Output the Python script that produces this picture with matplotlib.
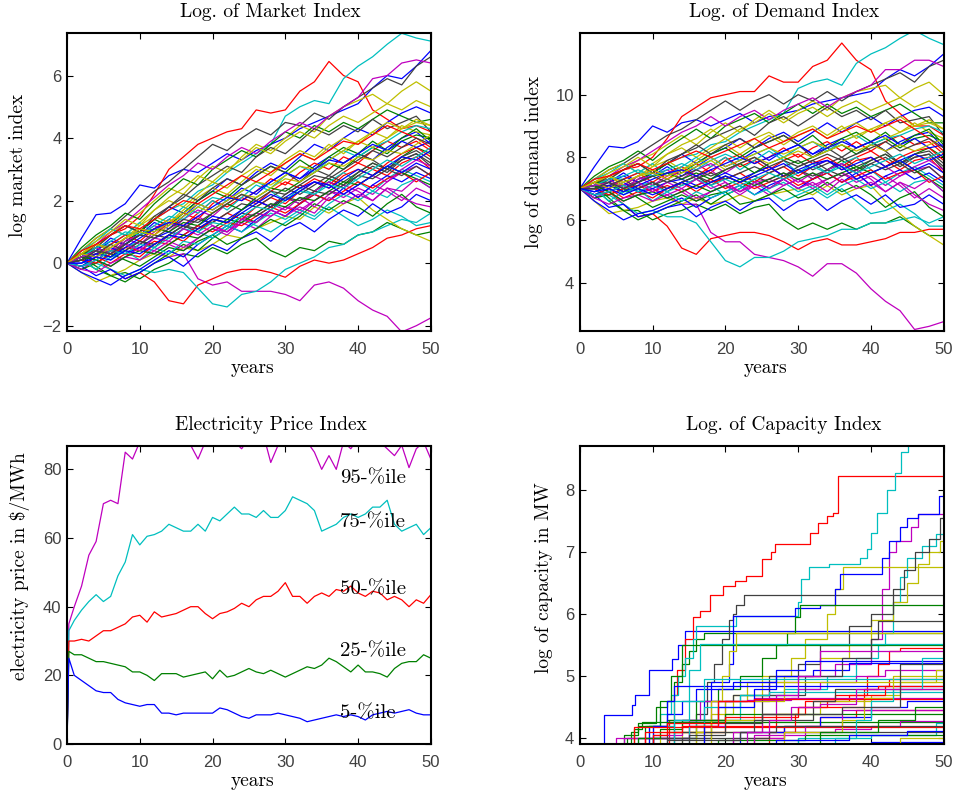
import matplotlib
matplotlib.use('Agg')
from matplotlib import pyplot as plt
from cycler import cycler

# time grid of the simulated paths (every 2 years)
YEARS = list(range(0, 51, 2))

# log of market index, one list per path
LOG_MARKET = [
    [0, .8, 1.55, 1.6, 1.9, 2.5, 2.4, 2.8, 3.0, 2.9, 3.2, 3.5, 3.3, 3.6, 3.8, 4.0, 4.3, 4.5, 4.7, 4.9, 5.1, 5.6, 6.0, 5.9, 6.3, 6.8],
    [0, .1, -.2, -.4, -.3, -.5, -.2, 0, .3, .2, .5, .3, .6, .8, .4, .2, .5, .4, .7, .6, .9, 1.0, 1.3, 1.1, .9, 1.0],
    [0, .3, .6, .9, 1.1, 1.5, 2.2, 3.0, 3.4, 3.8, 4.0, 4.2, 4.3, 4.9, 4.8, 4.9, 5.5, 5.8, 6.45, 6.0, 5.8, 4.9, 4.6, 4.3, 4.4, 4.2],
    [0, .2, .5, .6, .9, 1.0, 1.4, 1.7, 1.9, 2.3, 2.5, 2.9, 3.2, 3.5, 3.8, 4.7, 5.0, 5.2, 5.1, 5.9, 6.3, 6.6, 7.0, 7.35, 7.2, 7.1],
    [0, .2, .3, .4, .6, .5, .4, .2, .3, -.5, -.7, -.6, -.9, -.9, -.9, -1.0, -1.2, -.7, -.6, -.8, -1.2, -1.5, -1.7, -2.2, -2.0, -1.75],
    [0, .2, .5, .9, 1.3, 1.6, 2.0, 2.4, 2.2, 2.7, 3.1, 2.9, 3.4, 3.8, 3.6, 4.0, 4.4, 4.2, 4.7, 5.0, 5.2, 5.4, 5.1, 5.5, 5.8, 5.5],
    [0, .4, .8, 1.1, 1.5, 1.9, 2.3, 2.6, 3.0, 3.4, 3.8, 3.6, 4.0, 4.3, 4.1, 4.5, 4.4, 4.8, 4.6, 5.0, 5.3, 5.6, 5.9, 5.7, 6.3, 6.6],
    [0, .1, .4, .8, .6, 1.0, 1.4, 1.8, 1.6, 2.0, 2.3, 2.7, 2.5, 2.9, 3.2, 3.0, 3.4, 3.8, 3.6, 4.0, 4.3, 4.1, 4.5, 4.8, 5.0, 4.8],
    [0, .5, .9, 1.2, 1.6, 1.4, 1.9, 2.3, 2.7, 2.5, 3.0, 3.3, 3.6, 3.4, 3.8, 4.2, 4.0, 4.4, 4.2, 4.5, 4.3, 4.6, 4.9, 4.7, 4.5, 4.6],
    [0, -.1, .1, -.2, -.5, -.3, -.6, -1.2, -1.3, -.7, -.5, -.3, -.2, -.2, -.3, -.45, -.1, .1, 0, .1, .3, .5, .8, .9, 1.1, 1.2],
    [0, -.1, 0, -.2, -.4, -.2, -.3, -.2, -.3, -.8, -1.3, -1.4, -1.0, -.9, -.6, -.2, 0, .2, .5, .6, .9, 1.0, 1.2, 1.4, 1.3, 1.6],
    [0, .3, .6, 1.0, 1.3, 1.7, 2.1, 2.5, 2.8, 3.2, 3.0, 3.4, 3.7, 3.5, 3.9, 4.2, 4.5, 4.3, 4.7, 5.0, 5.3, 5.9, 6.0, 6.4, 6.5, 6.4],
    [0, -.3, -.6, -.4, -.2, .1, .3, .2, .5, .4, .6, .9, .8, 1.1, 1.3, 1.5, 1.4, 1.8, 1.6, 1.9, 2.1, 1.7, 1.4, 1.1, .9, .7],
    [0, .3, .5, .9, 1.2, 1.0, 1.4, 1.8, 2.1, 2.5, 2.8, 3.1, 2.9, 3.4, 3.7, 3.5, 3.9, 4.3, 4.1, 4.4, 4.2, 4.6, 4.3, 4.5, 4.7, 4.2],
    [0, .2, .4, .7, .6, .9, 1.3, 1.1, 1.5, 1.9, 1.7, 2.0, 2.4, 2.2, 2.6, 2.9, 2.7, 3.1, 3.4, 3.2, 3.5, 3.3, 3.7, 4.0, 4.2, 3.8],
    [0, .2, -.1, -.4, -.6, -.3, 0, .3, .6, .4, .8, 1.1, 1.5, 1.3, 1.7, 2.1, 1.9, 2.3, 2.7, 2.5, 2.9, 3.2, 3.0, 3.4, 3.7, 3.5],
    [0, .3, .6, .4, .8, 1.1, .9, 1.3, 1.6, 1.4, 1.9, 2.2, 2.0, 2.3, 2.7, 2.5, 2.9, 3.2, 3.0, 3.4, 3.2, 3.6, 3.9, 3.7, 3.9, 3.6],
    [0, .2, .4, .1, .5, .7, .6, .9, 1.2, 1.0, .8, 1.1, 1.4, 1.2, 1.0, 1.3, 1.6, 1.4, 1.8, 1.5, 1.2, 1.4, 1.7, 1.5, 1.2, 1.3],
    [0, -.2, .1, -.1, .2, .5, .3, .6, .4, .8, 1.1, .9, 1.3, 1.1, 1.5, 1.8, 1.6, 2.0, 2.3, 2.1, 2.4, 2.2, 2.6, 2.9, 3.1, 2.8],
    [0, .4, .8, 1.1, .9, 1.3, 1.7, 2.0, 1.8, 2.2, 2.6, 2.4, 2.8, 3.1, 2.9, 3.3, 3.6, 3.4, 3.8, 3.5, 3.9, 4.2, 4.0, 4.4, 4.2, 4.1],
    [0, .1, .3, .2, .4, .7, .5, .9, 1.2, 1.0, 1.4, 1.3, 1.7, 2.0, 1.8, 2.2, 2.5, 2.3, 2.6, 2.4, 2.8, 3.1, 2.9, 3.3, 3.5, 3.1],
    [0, -.1, -.4, -.2, -.5, -.3, 0, .2, -.1, .3, .6, .4, .8, 1.0, .7, 1.1, 1.3, 1.0, 1.4, 1.7, 1.5, 1.9, 1.6, 1.8, 2.2, 2.0],
    [0, .1, .5, .3, .7, 1.0, 1.4, 1.2, 1.6, 2.0, 2.3, 2.1, 2.5, 2.8, 3.1, 2.9, 3.3, 3.0, 3.4, 3.7, 3.5, 3.9, 3.6, 4.0, 4.3, 3.9],
    [0, .3, .2, .6, .9, .7, 1.1, 1.4, 1.2, 1.6, 2.0, 1.8, 2.1, 1.9, 2.3, 2.6, 2.4, 2.7, 2.5, 2.9, 3.2, 3.0, 2.8, 3.2, 3.4, 3.0],
    [0, .4, .7, 1.1, .9, 1.3, 1.0, 1.4, 1.8, 1.6, 2.0, 1.7, 2.1, 2.5, 2.3, 2.0, 2.4, 2.2, 2.6, 2.9, 2.6, 2.3, 2.7, 3.0, 2.8, 2.6],
    [0, .2, .5, .3, .7, .9, 1.2, 1.0, 1.4, 1.7, 1.5, 1.9, 2.2, 2.0, 1.8, 2.1, 1.9, 2.3, 2.6, 2.4, 2.1, 2.5, 2.3, 2.0, 2.4, 2.2],
    [0, .2, .6, .4, .8, 1.2, 1.5, 1.3, 1.7, 2.1, 2.4, 2.2, 2.6, 3.0, 2.8, 3.2, 3.5, 3.3, 3.7, 4.0, 3.8, 4.2, 4.5, 4.3, 4.6, 4.4],
    [0, .2, .6, .9, 1.2, 1.0, 1.5, 1.8, 2.2, 2.0, 2.4, 2.7, 2.5, 2.8, 3.1, 2.9, 2.6, 3.0, 2.8, 3.2, 3.5, 3.3, 3.0, 3.4, 3.6, 3.3],
    [0, -.3, -.5, -.7, -.4, -.2, .1, .4, .2, .6, .9, 1.2, 1.0, 1.4, 1.7, 1.5, 1.9, 2.2, 2.0, 2.4, 2.1, 2.5, 2.8, 2.6, 2.9, 2.7],
    [0, -.2, 0, .3, .1, -.1, .2, .5, .4, .7, .9, .6, .8, 1.1, 1.4, 1.2, 1.5, 1.9, 1.7, 2.0, 1.8, 1.5, 1.9, 2.2, 1.8, 1.6],
    [0, -.1, .2, 0, .3, .2, .6, .9, .7, 1.1, 1.3, 1.6, 1.4, 1.8, 2.1, 1.9, 2.3, 2.6, 2.4, 2.8, 3.0, 2.8, 3.2, 3.5, 3.7, 3.4],
    [0, .1, -.2, .2, .4, .1, .5, .3, .7, .6, .9, 1.2, 1.0, 1.3, 1.6, 1.4, 1.7, 1.5, 1.9, 2.2, 2.0, 2.3, 2.1, 2.5, 2.7, 2.4],
    [0, .3, .1, .4, .8, .6, 1.0, 1.3, 1.1, 1.5, 1.2, 1.0, 1.4, 1.6, 1.9, 1.7, 2.1, 1.8, 2.2, 2.5, 2.3, 2.0, 2.4, 2.1, 1.9, 1.8],
    [0, .3, .7, 1.0, 1.4, 1.2, 1.7, 2.1, 2.4, 2.8, 2.6, 3.0, 3.3, 3.7, 3.5, 3.9, 4.2, 4.0, 4.4, 4.7, 4.5, 4.8, 5.1, 4.9, 5.2, 5.0],
    [0, .2, .1, .4, .3, .6, .9, .8, 1.1, 1.4, 1.3, 1.6, 1.9, 1.8, 2.1, 2.4, 2.2, 2.5, 2.8, 2.6, 2.9, 3.2, 3.0, 3.3, 3.5, 3.2],
    [0, -.1, .2, .5, .3, .5, .8, 1.0, .9, 1.2, 1.5, 1.4, 1.7, 2.0, 1.8, 2.1, 2.4, 2.6, 2.4, 2.7, 3.0, 2.8, 3.1, 3.4, 3.3, 3.6],
    [0, .3, .4, .2, .6, .9, 1.1, 1.0, 1.3, 1.2, 1.6, 1.9, 1.7, 2.1, 2.4, 2.3, 2.6, 2.9, 3.2, 3.0, 3.4, 3.7, 3.5, 3.9, 4.1, 4.0],
    [0, .1, 0, .3, .5, .4, .7, .6, .9, 1.2, 1.0, 1.3, 1.2, 1.5, 1.8, 1.6, 1.9, 2.2, 2.0, 2.3, 2.6, 2.4, 2.7, 2.9, 2.6, 2.9],
    [0, .2, .5, .7, 1.0, .9, 1.2, 1.5, 1.4, 1.8, 2.1, 2.0, 2.3, 2.6, 2.4, 2.8, 3.1, 2.9, 3.3, 3.6, 3.4, 3.7, 3.9, 4.2, 4.4, 4.3],
    [0, -.2, -.3, 0, .2, .1, .4, .7, .5, .8, 1.1, 1.0, 1.3, 1.6, 1.5, 1.8, 1.7, 2.0, 2.3, 2.2, 2.5, 2.8, 2.6, 3.0, 3.3, 3.1],
    [0, .3, .6, .5, .8, 1.1, 1.0, 1.3, 1.6, 1.9, 1.7, 2.0, 2.3, 2.6, 2.5, 2.8, 3.1, 3.0, 3.3, 3.6, 3.9, 3.7, 4.0, 4.3, 4.5, 4.4],
    [0, .1, .3, .6, .4, .7, .6, .9, 1.2, 1.1, 1.4, 1.3, 1.6, 1.5, 1.8, 2.1, 2.0, 2.3, 2.2, 2.5, 2.8, 2.7, 3.0, 2.8, 3.1, 2.8],
    [0, 0, .3, .2, .5, .8, 1.1, 1.3, 1.2, 1.5, 1.8, 2.1, 2.0, 2.3, 2.6, 2.9, 2.7, 3.0, 3.3, 3.2, 3.5, 3.8, 3.6, 3.9, 3.7, 3.9],
    [0, .2, .1, -.1, .2, .4, .3, .6, .9, .8, 1.1, 1.4, 1.3, 1.6, 1.9, 1.8, 2.1, 2.0, 2.3, 2.6, 2.5, 2.8, 3.1, 2.9, 2.7, 2.5],
    [0, .4, .6, .9, 1.2, 1.1, 1.4, 1.7, 2.0, 1.9, 2.2, 2.5, 2.8, 2.6, 2.9, 3.2, 3.5, 3.3, 3.6, 3.9, 3.8, 4.1, 4.4, 4.2, 4.0, 3.7],
    [0, -.1, .1, .4, .3, .6, .5, .8, 1.1, 1.0, 1.3, 1.2, 1.5, 1.8, 1.7, 2.0, 2.3, 2.2, 2.5, 2.4, 2.7, 3.0, 3.3, 3.1, 3.4, 3.7],
    [0, .2, .4, .3, .6, .4, .8, .7, 1.1, .9, 1.2, 1.0, 1.4, 1.3, 1.7, 1.5, 1.8, 1.6, 2.1, 1.9, 2.2, 2.0, 2.4, 2.3, 2.7, 2.4],
    [0, .3, .2, .5, .8, 1.0, .9, 1.2, 1.5, 1.8, 1.6, 1.9, 2.2, 2.1, 2.4, 2.7, 2.6, 2.9, 3.2, 3.1, 3.4, 3.3, 3.6, 3.5, 3.8, 4.1],
    [0, .1, .4, .3, .6, .9, .8, 1.1, 1.4, 1.3, 1.6, 1.9, 2.2, 2.0, 2.3, 2.2, 2.5, 2.8, 2.7, 3.0, 3.3, 3.6, 3.4, 3.7, 4.0, 3.8],
    [0, 0, .2, .1, .4, .3, .6, .9, .8, 1.1, 1.4, 1.3, 1.6, 1.9, 2.2, 2.0, 2.3, 2.6, 2.5, 2.2, 2.5, 2.8, 3.1, 2.9, 3.2, 3.0],
]

# log of demand index, one list per path
LOG_DEMAND = [
    [7.0, 7.7, 8.35, 8.3, 8.5, 9.0, 8.8, 9.1, 9.2, 9.0, 9.2, 9.4, 9.1, 9.3, 9.4, 9.5, 9.7, 9.8, 9.9, 10.0, 10.1, 10.5, 10.8, 10.6, 10.9, 11.3],
    [7.0, 7.0, 6.6, 6.3, 6.3, 6.0, 6.2, 6.3, 6.5, 6.3, 6.5, 6.2, 6.4, 6.5, 6.0, 5.7, 5.9, 5.7, 5.9, 5.7, 5.9, 5.9, 6.1, 5.8, 5.5, 5.5],
    [7.0, 7.2, 7.4, 7.6, 7.7, 8.0, 8.6, 9.3, 9.6, 9.9, 10.0, 10.1, 10.1, 10.6, 10.4, 10.4, 10.9, 11.1, 11.65, 11.1, 10.8, 9.8, 9.4, 9.0, 9.0, 8.7],
    [7.0, 7.1, 7.3, 7.3, 7.5, 7.5, 7.8, 8.0, 8.1, 8.4, 8.5, 8.8, 9.0, 9.2, 9.4, 10.2, 10.4, 10.5, 10.3, 11.0, 11.3, 11.5, 11.8, 12.05, 11.8, 11.6],
    [7.0, 7.1, 7.1, 7.1, 7.2, 7.0, 6.8, 6.5, 6.5, 5.6, 5.3, 5.3, 4.9, 4.8, 4.7, 4.5, 4.2, 4.6, 4.6, 4.3, 3.8, 3.4, 3.1, 2.5, 2.6, 2.75],
    [7.0, 7.1, 7.3, 7.6, 7.9, 8.1, 8.4, 8.7, 8.4, 8.8, 9.1, 8.8, 9.2, 9.5, 9.2, 9.5, 9.8, 9.5, 9.9, 10.1, 10.2, 10.3, 9.9, 10.2, 10.4, 10.0],
    [7.0, 7.3, 7.6, 7.8, 8.1, 8.4, 8.7, 8.9, 9.2, 9.5, 9.8, 9.5, 9.8, 10.0, 9.7, 10.0, 9.8, 10.1, 9.8, 10.1, 10.3, 10.5, 10.7, 10.4, 10.9, 11.1],
    [7.0, 7.0, 7.2, 7.5, 7.2, 7.5, 7.8, 8.1, 7.8, 8.1, 8.3, 8.6, 8.3, 8.6, 8.8, 8.5, 8.8, 9.1, 8.8, 9.1, 9.3, 9.0, 9.3, 9.5, 9.6, 9.3],
    [7.0, 7.4, 7.7, 7.9, 8.2, 7.9, 8.3, 8.6, 8.9, 8.6, 9.0, 9.2, 9.4, 9.1, 9.4, 9.7, 9.4, 9.7, 9.4, 9.6, 9.3, 9.5, 9.7, 9.4, 9.1, 9.1],
    [7.0, 6.8, 6.9, 6.5, 6.1, 6.2, 5.8, 5.1, 4.9, 5.4, 5.5, 5.6, 5.6, 5.5, 5.3, 5.05, 5.3, 5.4, 5.2, 5.2, 5.3, 5.4, 5.6, 5.6, 5.7, 5.7],
    [7.0, 6.8, 6.8, 6.5, 6.2, 6.3, 6.1, 6.1, 5.9, 5.3, 4.7, 4.5, 4.8, 4.8, 5.0, 5.3, 5.4, 5.5, 5.7, 5.7, 5.9, 5.9, 6.0, 6.1, 5.9, 6.1],
    [7.0, 7.2, 7.4, 7.7, 7.9, 8.2, 8.5, 8.8, 9.0, 9.3, 9.0, 9.3, 9.5, 9.2, 9.5, 9.7, 9.9, 9.6, 9.9, 10.1, 10.3, 10.8, 10.8, 11.1, 11.1, 10.9],
    [7.0, 6.6, 6.2, 6.3, 6.4, 6.6, 6.7, 6.5, 6.7, 6.5, 6.6, 6.8, 6.6, 6.8, 6.9, 7.0, 6.8, 7.1, 6.8, 7.0, 7.1, 6.6, 6.2, 5.8, 5.5, 5.2],
    [7.0, 7.2, 7.3, 7.6, 7.8, 7.5, 7.8, 8.1, 8.3, 8.6, 8.8, 9.0, 8.7, 9.1, 9.3, 9.0, 9.3, 9.6, 9.3, 9.5, 9.2, 9.5, 9.1, 9.2, 9.3, 8.7],
    [7.0, 7.1, 7.2, 7.4, 7.2, 7.4, 7.7, 7.4, 7.7, 8.0, 7.7, 7.9, 8.2, 7.9, 8.2, 8.4, 8.1, 8.4, 8.6, 8.3, 8.5, 8.2, 8.5, 8.7, 8.8, 8.3],
    [7.0, 7.1, 6.7, 6.3, 6.0, 6.2, 6.4, 6.6, 6.8, 6.5, 6.8, 7.0, 7.3, 7.0, 7.3, 7.6, 7.3, 7.6, 7.9, 7.6, 7.9, 8.1, 7.8, 8.1, 8.3, 8.0],
    [7.0, 7.2, 7.4, 7.1, 7.4, 7.6, 7.3, 7.6, 7.8, 7.5, 7.9, 8.1, 7.8, 8.0, 8.3, 8.0, 8.3, 8.5, 8.2, 8.5, 8.2, 8.5, 8.7, 8.4, 8.5, 8.1],
    [7.0, 7.1, 7.2, 6.8, 7.1, 7.2, 7.0, 7.2, 7.4, 7.1, 6.8, 7.0, 7.2, 6.9, 6.6, 6.8, 7.0, 6.7, 7.0, 6.6, 6.2, 6.3, 6.5, 6.2, 5.8, 5.8],
    [7.0, 6.7, 6.9, 6.6, 6.8, 7.0, 6.7, 6.9, 6.6, 6.9, 7.1, 6.8, 7.1, 6.8, 7.1, 7.3, 7.0, 7.3, 7.5, 7.2, 7.4, 7.1, 7.4, 7.6, 7.7, 7.3],
    [7.0, 7.3, 7.6, 7.8, 7.5, 7.8, 8.1, 8.3, 8.0, 8.3, 8.6, 8.3, 8.6, 8.8, 8.5, 8.8, 9.0, 8.7, 9.0, 8.6, 8.9, 9.1, 8.8, 9.1, 8.8, 8.6],
    [7.0, 7.0, 7.1, 6.9, 7.0, 7.2, 6.9, 7.2, 7.4, 7.1, 7.4, 7.2, 7.5, 7.7, 7.4, 7.7, 7.9, 7.6, 7.8, 7.5, 7.8, 8.0, 7.7, 8.0, 8.1, 7.6],
    [7.0, 6.8, 6.4, 6.5, 6.1, 6.2, 6.4, 6.5, 6.1, 6.4, 6.6, 6.3, 6.6, 6.7, 6.3, 6.6, 6.7, 6.3, 6.6, 6.8, 6.5, 6.8, 6.4, 6.5, 6.8, 6.5],
    [7.0, 7.0, 7.3, 7.0, 7.3, 7.5, 7.8, 7.5, 7.8, 8.1, 8.3, 8.0, 8.3, 8.5, 8.7, 8.4, 8.7, 8.3, 8.6, 8.8, 8.5, 8.8, 8.4, 8.7, 8.9, 8.4],
    [7.0, 7.2, 7.0, 7.3, 7.5, 7.2, 7.5, 7.7, 7.4, 7.7, 8.0, 7.7, 7.9, 7.6, 7.9, 8.1, 7.8, 8.0, 7.7, 8.0, 8.2, 7.9, 7.6, 7.9, 8.0, 7.5],
    [7.0, 7.3, 7.5, 7.8, 7.5, 7.8, 7.4, 7.7, 8.0, 7.7, 8.0, 7.6, 7.9, 8.2, 7.9, 7.5, 7.8, 7.5, 7.8, 8.0, 7.6, 7.2, 7.5, 7.7, 7.4, 7.1],
    [7.0, 7.1, 7.3, 7.0, 7.3, 7.4, 7.6, 7.3, 7.6, 7.8, 7.5, 7.8, 8.0, 7.7, 7.4, 7.6, 7.3, 7.6, 7.8, 7.5, 7.1, 7.4, 7.1, 6.7, 7.0, 6.7],
    [7.0, 7.1, 7.4, 7.1, 7.4, 7.7, 7.9, 7.6, 7.9, 8.2, 8.4, 8.1, 8.4, 8.7, 8.4, 8.7, 8.9, 8.6, 8.9, 9.1, 8.8, 9.1, 9.3, 9.0, 9.2, 8.9],
    [7.0, 7.1, 7.4, 7.6, 7.8, 7.5, 7.9, 8.1, 8.4, 8.1, 8.4, 8.6, 8.3, 8.5, 8.7, 8.4, 8.0, 8.3, 8.0, 8.3, 8.5, 8.2, 7.8, 8.1, 8.2, 7.8],
    [7.0, 6.6, 6.3, 6.0, 6.2, 6.3, 6.5, 6.7, 6.4, 6.7, 6.9, 7.1, 6.8, 7.1, 7.3, 7.0, 7.3, 7.5, 7.2, 7.5, 7.1, 7.4, 7.6, 7.3, 7.5, 7.2],
    [7.0, 6.7, 6.8, 7.0, 6.7, 6.4, 6.6, 6.8, 6.6, 6.8, 6.9, 6.5, 6.6, 6.8, 7.0, 6.7, 6.9, 7.2, 6.9, 7.1, 6.8, 6.4, 6.7, 6.9, 6.4, 6.1],
    [7.0, 6.8, 7.0, 6.7, 6.9, 6.7, 7.0, 7.2, 6.9, 7.2, 7.3, 7.5, 7.2, 7.5, 7.7, 7.4, 7.7, 7.9, 7.6, 7.9, 8.0, 7.7, 8.0, 8.2, 8.3, 7.9],
    [7.0, 7.0, 6.6, 6.9, 7.0, 6.6, 6.9, 6.6, 6.9, 6.7, 6.9, 7.1, 6.8, 7.0, 7.2, 6.9, 7.1, 6.8, 7.1, 7.3, 7.0, 7.2, 6.9, 7.2, 7.3, 6.9],
    [7.0, 7.2, 6.9, 7.1, 7.4, 7.1, 7.4, 7.6, 7.3, 7.6, 7.2, 6.9, 7.2, 7.3, 7.5, 7.2, 7.5, 7.1, 7.4, 7.6, 7.3, 6.9, 7.2, 6.8, 6.5, 6.3],
    [7.0, 7.2, 7.5, 7.7, 8.0, 7.7, 8.1, 8.4, 8.6, 8.9, 8.6, 8.9, 9.1, 9.4, 9.1, 9.4, 9.6, 9.3, 9.6, 9.8, 9.5, 9.7, 9.9, 9.6, 9.8, 9.5],
    [7.0, 7.1, 6.9, 7.1, 6.9, 7.1, 7.3, 7.1, 7.3, 7.5, 7.3, 7.5, 7.7, 7.5, 7.7, 7.9, 7.6, 7.8, 8.0, 7.7, 7.9, 8.1, 7.8, 8.0, 8.1, 7.7],
    [7.0, 6.8, 7.0, 7.2, 6.9, 7.0, 7.2, 7.3, 7.1, 7.3, 7.5, 7.3, 7.5, 7.7, 7.4, 7.6, 7.8, 7.9, 7.6, 7.8, 8.0, 7.7, 7.9, 8.1, 7.9, 8.1],
    [7.0, 7.2, 7.2, 6.9, 7.2, 7.4, 7.5, 7.3, 7.5, 7.3, 7.6, 7.8, 7.5, 7.8, 8.0, 7.8, 8.0, 8.2, 8.4, 8.1, 8.4, 8.6, 8.3, 8.6, 8.7, 8.5],
    [7.0, 7.0, 6.8, 7.0, 7.1, 6.9, 7.1, 6.9, 7.1, 7.3, 7.0, 7.2, 7.0, 7.2, 7.4, 7.1, 7.3, 7.5, 7.2, 7.4, 7.6, 7.3, 7.5, 7.6, 7.2, 7.4],
    [7.0, 7.1, 7.3, 7.4, 7.6, 7.4, 7.6, 7.8, 7.6, 7.9, 8.1, 7.9, 8.1, 8.3, 8.0, 8.3, 8.5, 8.2, 8.5, 8.7, 8.4, 8.6, 8.7, 8.9, 9.0, 8.8],
    [7.0, 6.7, 6.5, 6.7, 6.8, 6.6, 6.8, 7.0, 6.7, 6.9, 7.1, 6.9, 7.1, 7.3, 7.1, 7.3, 7.1, 7.3, 7.5, 7.3, 7.5, 7.7, 7.4, 7.7, 7.9, 7.6],
    [7.0, 7.2, 7.4, 7.2, 7.4, 7.6, 7.4, 7.6, 7.8, 8.0, 7.7, 7.9, 8.1, 8.3, 8.1, 8.3, 8.5, 8.3, 8.5, 8.7, 8.9, 8.6, 8.8, 9.0, 9.1, 8.9],
    [7.0, 7.0, 7.1, 7.3, 7.0, 7.2, 7.0, 7.2, 7.4, 7.2, 7.4, 7.2, 7.4, 7.2, 7.4, 7.6, 7.4, 7.6, 7.4, 7.6, 7.8, 7.6, 7.8, 7.5, 7.7, 7.3],
    [7.0, 6.9, 7.1, 6.9, 7.1, 7.3, 7.5, 7.6, 7.4, 7.6, 7.8, 8.0, 7.8, 8.0, 8.2, 8.4, 8.1, 8.3, 8.5, 8.3, 8.5, 8.7, 8.4, 8.6, 8.3, 8.4],
    [7.0, 7.1, 6.9, 6.6, 6.8, 6.9, 6.7, 6.9, 7.1, 6.9, 7.1, 7.3, 7.1, 7.3, 7.5, 7.3, 7.5, 7.3, 7.5, 7.7, 7.5, 7.7, 7.9, 7.6, 7.3, 7.0],
    [7.0, 7.3, 7.4, 7.6, 7.8, 7.6, 7.8, 8.0, 8.2, 8.0, 8.2, 8.4, 8.6, 8.3, 8.5, 8.7, 8.9, 8.6, 8.8, 9.0, 8.8, 9.0, 9.2, 8.9, 8.6, 8.2],
    [7.0, 6.8, 6.9, 7.1, 6.9, 7.1, 6.9, 7.1, 7.3, 7.1, 7.3, 7.1, 7.3, 7.5, 7.3, 7.5, 7.7, 7.5, 7.7, 7.5, 7.7, 7.9, 8.1, 7.8, 8.0, 8.2],
    [7.0, 7.1, 7.2, 7.0, 7.2, 6.9, 7.2, 7.0, 7.3, 7.0, 7.2, 6.9, 7.2, 7.0, 7.3, 7.0, 7.2, 6.9, 7.3, 7.0, 7.2, 6.9, 7.2, 7.0, 7.3, 6.9],
    [7.0, 7.2, 7.0, 7.2, 7.4, 7.5, 7.3, 7.5, 7.7, 7.9, 7.6, 7.8, 8.0, 7.8, 8.0, 8.2, 8.0, 8.2, 8.4, 8.2, 8.4, 8.2, 8.4, 8.2, 8.4, 8.6],
    [7.0, 7.0, 7.2, 7.0, 7.2, 7.4, 7.2, 7.4, 7.6, 7.4, 7.6, 7.8, 8.0, 7.7, 7.9, 7.7, 7.9, 8.1, 7.9, 8.1, 8.3, 8.5, 8.2, 8.4, 8.6, 8.3],
    [7.0, 6.9, 7.0, 6.8, 7.0, 6.8, 7.0, 7.2, 7.0, 7.2, 7.4, 7.2, 7.4, 7.6, 7.8, 7.5, 7.7, 7.9, 7.7, 7.3, 7.5, 7.7, 7.9, 7.6, 7.8, 7.5],
]

# electricity price percentiles in $/MWh
PRICE_YEARS = [0, 0.25] + list(range(1, 51))
PRICE_P95 = [0, 35, 40, 46, 55, 59, 70, 71, 70, 85, 83, 88, 89, 88, 90, 88, 89, 88, 87, 83, 88, 89, 87, 90, 88, 86,
             89, 88, 90, 82, 87, 88, 89, 87, 88, 85, 80, 84, 80, 88, 86, 89, 88, 90, 88, 86, 84, 87, 80.5, 86, 88, 83]
PRICE_P75 = [0, 33, 36, 39, 41.5, 43.5, 41.5, 43, 49, 53, 61, 58, 60.5, 61, 62, 64, 63, 62, 62, 64, 62, 66,
             65, 67, 69, 67, 67, 66, 68, 66, 66, 68, 72, 71, 70, 68, 62, 63, 64, 66, 67, 66, 67, 69, 69, 71, 64, 62, 63, 64, 61, 63]
PRICE_P50 = [0, 30, 30, 30.5, 30, 31.5, 33, 33, 34, 35, 37, 37.5, 35.5, 38.5, 37, 37.5, 38, 39, 40, 40, 38, 36.5,
             38, 38.5, 39.5, 41, 40, 42, 43, 43, 44.5, 47, 43, 43, 41, 43, 44, 43, 45, 44.5, 46, 44, 43, 44.5, 44, 42, 43, 42, 40, 42, 41, 43.5]
PRICE_P25 = [0, 27, 26, 26, 25, 24, 24, 23.5, 23, 22.5, 21, 21, 20, 18.5, 20.5, 20.5, 20.5, 19.5, 20, 20.5, 21, 19,
             21.5, 19.5, 20, 21, 22, 21, 20.5, 21.5, 20.5, 19.5, 20.5, 21.5, 22.5, 22, 23, 25, 24, 22.5, 21, 23, 21, 21, 20.5, 19.5, 22, 23.5, 24, 24, 26, 25]
PRICE_P5 = [0, 25, 20, 18.5, 17, 15.5, 15, 15, 13, 12, 11.5, 11, 11.5, 11.5, 9, 9, 8.5, 9, 9, 9, 9, 9,
            10.5, 10, 9, 8, 7.5, 8.5, 8.5, 8.5, 9, 8.5, 8, 7.5, 6.5, 7, 7.5, 8, 8.5, 8, 8.5, 8, 7, 8.5, 9, 9.5, 9, 9.5, 10, 9, 8.5, 8.5]
PERCENTILE_LABELS = ['95-%ile', '75-%ile', '50-%ile', '25-%ile', '5-%ile']
LABEL_LEVELS = [77.5, 64.5, 45, 27, 9]

# log of capacity: jump times and levels after each jump (step paths)
CAP_TIMES = [
    [0, 3.3, 7.1, 7.6, 9.5, 12.6, 13.5, 14.5, 50],
    [0, 7, 8, 10.5, 12, 13, 14, 15, 16, 17, 50],
    [0, 12.3, 13, 13.3, 14.4, 15.6, 16.5, 17.9, 19.7, 21.3, 22.9, 25, 26.3, 26.8, 31.6, 32.7, 33.9, 34.8, 35.5, 50],
    [0, 9.5, 11, 12.5, 13.5, 14.5, 15.5, 16, 21.5, 30, 30.4, 31.5, 34.3, 38.5, 39.4, 40, 40.8, 42.2, 43.3, 44.2, 45.1, 50],
    [0, 9, 15, 20, 26, 30, 35, 40, 41.5, 42.5, 43.5, 45.5, 46.5, 50],
    [0, 14, 18, 21, 25, 29, 31, 33.9, 35, 36.1, 50],
    [0, 14, 16, 17.5, 18.5, 19.5, 20.5, 21, 21.5, 22.5, 50],
    [0, 10, 13, 17, 18, 20.5, 21, 29.5, 33, 35, 35.8, 41.5, 42.5, 44, 45, 46.5, 49.3, 50],
    [0, 6, 8, 12, 16, 19, 22, 25, 27, 28.5, 29.5, 30.2, 50],
    [0, 9, 13, 20, 27, 30, 34, 37, 39.5, 41, 42.5, 44, 50],
    [0, 8, 16, 22, 28, 34, 38, 41, 42, 43, 44, 45, 47, 49, 50],
    [0, 5, 10, 14, 18, 24, 30, 33, 38, 42, 50],
    [0, 11, 17, 20, 23, 28, 33, 37, 40, 43, 45, 46.5, 48, 49.5, 50],
    [0, 12, 17, 19, 21, 26, 30, 33, 37, 40, 43, 44.5, 46, 48, 49.5, 50],
    [0, 9.5, 12, 14, 16, 21, 27, 32, 37, 50],
    [0, 6.5, 9, 11, 12.5, 14, 50],
    [0, 24, 28, 33, 38, 50],
    [0, 10, 13, 15, 16.5, 50],
    [0, 6, 15, 16.5, 23, 29, 50],
    [0, 16, 18, 19.5, 20.5, 21.5, 50],
    [0, 10, 18, 25, 31, 36, 40, 41, 50],
    [0, 10, 12, 13, 50],
    [0, 7.5, 8.5, 50],
    [0, 26, 29.5, 31, 35, 39, 41, 42.5, 50],
    [0, 30, 40, 49, 50],
    [0, 21, 28, 35, 40, 44, 50],
    [0, 16, 25, 33, 40, 44, 49, 50],
    [0, 13, 26, 50],
    [0, 22, 28, 33, 40, 45, 50],
    [0, 19, 31, 50],
    [0, 7.5, 50],
    [0, 15, 17, 22, 26, 50],
    [0, 24, 31, 36, 50],
    [0, 18, 24, 28, 50],
    [0, 17, 24, 32, 35, 50],
    [0, 40, 50],
    [0, 8, 11, 14, 20, 50],
    [0, 10, 12, 20, 30, 39, 42, 50],
    [0, 13, 15, 17, 50],
    [0, 21, 25, 27, 30, 33, 50],
    [0, 28, 36, 39, 43, 50],
    [0, 12, 22, 27, 50],
    [0, 17, 19, 24, 27, 31, 50],
    [0, 33, 41, 46, 50],
    [0, 9, 14, 19, 24, 50],
    [0, 35, 38, 40, 43, 47, 50],
    [0, 23, 26, 29, 33, 38, 50],
    [0, 44, 50],
    [0, 15, 20, 25, 36, 44, 50],
    [0, 27, 37, 45, 50],
]
CAP_LEVELS = [
    [3.91, 4.37, 4.53, 4.69, 5.1, 5.27, 5.5, 5.72, 5.72],
    [3.91, 4.1, 4.25, 4.5, 4.6, 4.9, 5.2, 5.4, 5.6, 5.7, 5.7],
    [3.91, 4.3, 4.7, 5.1, 5.6, 5.95, 6.05, 6.3, 6.45, 6.53, 6.61, 6.88, 7.0, 7.12, 7.3, 7.47, 7.58, 7.63, 8.22, 8.22],
    [3.91, 4.2, 4.4, 4.7, 5.0, 5.3, 5.6, 5.8, 5.97, 6.2, 6.56, 6.75, 6.8, 6.9, 7.04, 7.3, 7.63, 8.0, 8.27, 8.6, 8.8, 8.8],
    [3.91, 4.0, 4.2, 4.6, 4.9, 5.0, 5.2, 5.6, 6.4, 7.0, 7.17, 7.4, 7.6, 7.6],
    [3.91, 4.1, 4.4, 4.7, 5.0, 5.3, 5.6, 6.0, 6.4, 6.75, 6.75],
    [3.91, 4.0, 4.4, 4.9, 5.2, 5.6, 5.9, 6.0, 6.15, 6.3, 6.3],
    [3.91, 4.0, 4.3, 4.6, 4.9, 5.2, 5.97, 6.1, 6.15, 6.4, 6.65, 6.9, 7.17, 7.4, 7.55, 7.6, 7.9, 7.9],
    [3.91, 4.05, 4.2, 4.3, 4.6, 4.8, 5.0, 5.3, 5.5, 5.7, 5.95, 6.14, 6.14],
    [3.91, 4.0, 4.1, 4.2, 4.4, 4.5, 4.6, 4.7, 5.0, 5.2, 5.4, 5.45, 5.45],
    [3.91, 4.0, 4.3, 4.7, 4.8, 5.0, 5.3, 5.5, 5.7, 6.2, 6.6, 6.9, 7.1, 7.28, 7.28],
    [3.91, 4.0, 4.05, 4.3, 4.6, 4.65, 4.8, 4.9, 5.0, 5.1, 5.1],
    [3.91, 4.1, 4.3, 4.6, 4.9, 5.0, 5.3, 5.5, 5.9, 6.2, 6.5, 6.8, 7.0, 7.17, 7.17],
    [3.91, 4.1, 4.3, 4.6, 4.7, 5.0, 5.2, 5.5, 5.8, 6.0, 6.4, 6.7, 7.0, 7.2, 7.55, 7.55],
    [3.91, 4.2, 4.4, 4.6, 4.8, 4.9, 5.0, 5.1, 5.22, 5.22],
    [3.91, 4.0, 4.2, 4.6, 5.0, 5.5, 5.5],
    [3.91, 4.0, 4.2, 4.35, 4.45, 4.45],
    [3.91, 4.2, 4.6, 5.1, 5.52, 5.52],
    [3.91, 4.0, 4.3, 4.6, 4.62, 4.65, 4.65],
    [3.91, 4.2, 4.6, 5.0, 5.4, 5.7, 5.7],
    [3.91, 4.0, 4.3, 4.7, 5.0, 5.3, 5.6, 5.88, 5.88],
    [3.91, 4.2, 4.6, 4.85, 4.85],
    [3.91, 4.15, 4.27, 4.27],
    [3.91, 4.1, 4.4, 4.6, 4.7, 4.8, 4.85, 4.95, 4.95],
    [3.91, 4.0, 4.05, 4.25, 4.25],
    [3.91, 4.0, 4.1, 4.15, 4.2, 4.28, 4.28],
    [3.91, 4.1, 4.4, 4.6, 4.7, 4.9, 5.1, 5.1],
    [3.91, 4.0, 4.1, 4.1],
    [3.91, 4.1, 4.2, 4.35, 4.5, 4.6, 4.6],
    [3.91, 3.97, 4.05, 4.05],
    [3.91, 4.18, 4.18],
    [3.91, 4.2, 4.5, 4.7, 4.75, 4.75],
    [3.91, 4.05, 4.2, 4.45, 4.45],
    [3.91, 4.3, 4.6, 4.9, 4.9],
    [3.91, 4.1, 4.3, 4.6, 4.8, 4.8],
    [3.91, 3.94, 3.94],
    [3.91, 4.0, 4.15, 4.3, 4.4, 4.4],
    [3.91, 4.05, 4.25, 4.35, 4.5, 4.7, 4.85, 4.85],
    [3.91, 4.3, 4.6, 4.95, 4.95],
    [3.91, 4.1, 4.4, 4.7, 5.0, 5.4, 5.4],
    [3.91, 4.1, 4.3, 4.65, 5.0, 5.0],
    [3.91, 3.98, 4.1, 4.2, 4.2],
    [3.91, 4.2, 4.5, 4.8, 5.1, 5.25, 5.25],
    [3.91, 4.1, 4.3, 4.5, 4.5],
    [3.91, 4.1, 4.2, 4.6, 4.63, 4.63],
    [3.91, 4.0, 4.3, 4.6, 4.8, 5.3, 5.3],
    [3.91, 4.1, 4.3, 4.5, 4.55, 4.8, 4.8],
    [3.91, 4.0, 4.0],
    [3.91, 4.05, 4.25, 4.4, 4.5, 5.2, 5.2],
    [3.91, 3.98, 4.05, 4.12, 4.12],
]

MATLAB_COLORS = [(0, 0, 1), (0, 0.5, 0), (1, 0, 0), (0, 0.75, 0.75),
                 (0.75, 0, 0.75), (0.75, 0.75, 0), (0.25, 0.25, 0.25)]
PRICE_COLORS = [(0.75, 0, 0.75), (0, 0.75, 0.75), (1, 0, 0), (0, 0.5, 0), (0, 0, 1)]

plt.rcParams['font.family'] = ['Liberation Sans', 'DejaVu Sans']
plt.rcParams['axes.prop_cycle'] = cycler(color=MATLAB_COLORS)
SERIF = 'cmr10'
LW = 0.9


def style_axes(ax, title, ylabel, ylim, yticks, ylabel_xy):
    ax.set_xlim(0, 50)
    ax.set_ylim(*ylim)
    ax.set_xticks(range(0, 51, 10))
    ax.set_yticks(yticks)
    ax.tick_params(direction='in', top=True, right=True, length=4, width=0.8,
                   labelsize=12, labelcolor='0.25')
    ax.tick_params(axis='x', pad=8)
    ax.tick_params(axis='y', pad=4)
    for spine in ax.spines.values():
        spine.set_linewidth(1.5)
    ax.set_title(title, fontfamily=SERIF, fontsize=14, x=0.56, y=1.07, va='center', pad=0)
    ax.set_xlabel('years', fontfamily=SERIF, fontsize=14)
    ax.xaxis.set_label_coords(0.51, -0.095)
    ax.set_ylabel(ylabel, fontfamily=SERIF, fontsize=14)
    ax.yaxis.set_label_coords(*ylabel_xy)


def main():
    fig = plt.figure(figsize=(9.6, 7.99), dpi=100)
    w, h = 0.379, 0.373
    ax_market = fig.add_axes([0.0698, 0.5857, w, h])
    ax_demand = fig.add_axes([0.604, 0.5857, w, h])
    ax_price = fig.add_axes([0.0698, 0.0688, w, h])
    ax_cap = fig.add_axes([0.604, 0.0688, w, h])

    for path in LOG_MARKET:
        ax_market.plot(YEARS, path, lw=LW)
    style_axes(ax_market, 'Log. of Market Index', 'log market index',
               (-2.17, 7.36), [-2, 0, 2, 4, 6], (-0.11, 0.557))

    for path in LOG_DEMAND:
        ax_demand.plot(YEARS, path, lw=LW)
    style_axes(ax_demand, 'Log. of Demand Index', 'log of demand index',
               (2.45, 11.97), [4, 6, 8, 10], (-0.102, 0.567))

    price_series = [PRICE_P95, PRICE_P75, PRICE_P50, PRICE_P25, PRICE_P5]
    for series, color in zip(price_series, PRICE_COLORS):
        ax_price.plot(PRICE_YEARS, series, color=color, lw=LW)
    for label, level in zip(PERCENTILE_LABELS, LABEL_LEVELS):
        ax_price.text(37.5, level, label, fontfamily=SERIF, fontsize=15, va='center', ha='left')
    style_axes(ax_price, 'Electricity Price Index', 'electricity price in $/MWh',
               (0, 86.8), [0, 20, 40, 60, 80], (-0.102, 0.597))

    for times, levels in zip(CAP_TIMES, CAP_LEVELS):
        ax_cap.plot(times, levels, drawstyle='steps-post', lw=LW)
    style_axes(ax_cap, 'Log. of Capacity Index', 'log of capacity in MW',
               (3.91, 8.70), [4, 5, 6, 7, 8], (-0.074, 0.56))

    fig.savefig('out.png', dpi=100)


if __name__ == '__main__':
    main()
